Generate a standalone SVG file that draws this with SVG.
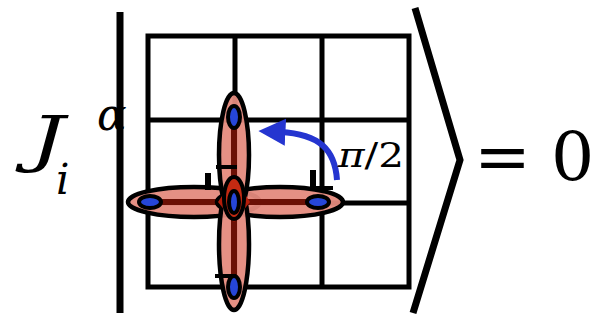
<svg xmlns="http://www.w3.org/2000/svg" width="594" height="323" viewBox="0 0 594 323">
<defs>
<style>
.grid{stroke:#000;stroke-width:5;fill:none}
.bond{fill:#e48a7d;fill-opacity:0.95;stroke:#000;stroke-width:4.5}
.core{stroke:#6b1005;stroke-width:6;stroke-linecap:round}
.site{fill:#2646d8;stroke:#000;stroke-width:4}
.tick{stroke:#000;stroke-width:4}
</style>
<marker id="ah" viewBox="0 0 10 10" refX="2" refY="5" markerWidth="4.5" markerHeight="5" orient="auto">
<path d="M0,0 L10,5 L0,10 z" fill="#2535d0"/>
</marker>
</defs>
<rect width="594" height="323" fill="#fff"/>
<g id="ket-left"><line x1="120" y1="12" x2="120" y2="313" stroke="#000" stroke-width="7"/></g>
<g id="ket-right"><polyline points="415,8 460,160 413,313" fill="none" stroke="#000" stroke-width="7"/></g>
<g id="grid">
<rect class="grid" x="148" y="36" width="261" height="251"/>
<line class="grid" x1="235" y1="36" x2="235" y2="287"/>
<line class="grid" x1="322" y1="36" x2="322" y2="287"/>
<line class="grid" x1="148" y1="120" x2="409" y2="120"/>
<line class="grid" x1="148" y1="203" x2="409" y2="203"/>
</g>
<g id="bond-left"><ellipse class="bond" cx="194" cy="202" rx="66" ry="15"/><line class="core" x1="150" y1="202" x2="234" y2="202"/></g>
<g id="bond-right"><ellipse class="bond" cx="280" cy="202" rx="63" ry="15"/><line class="core" x1="234" y1="202" x2="318" y2="202"/></g>
<g id="bond-top"><ellipse class="bond" cx="234" cy="155" rx="15" ry="62"/><line class="core" x1="234" y1="118" x2="234" y2="202"/></g>
<g id="bond-bottom"><ellipse class="bond" cx="234" cy="244" rx="15" ry="66"/><line class="core" x1="234" y1="202" x2="234" y2="287"/></g>
<g id="center">
<path d="M234,178 L250,202 L234,222 L218,202 Z" fill="#b51d0a"/>
<ellipse cx="234" cy="198" rx="10" ry="21" fill="#c42a12" stroke="#000" stroke-width="4"/>
<ellipse class="site" cx="234" cy="202" rx="5" ry="11"/>
</g>
<g id="sites">
<ellipse class="site" cx="234" cy="117" rx="6" ry="11"/>
<ellipse class="site" cx="150" cy="202" rx="11" ry="6"/>
<ellipse class="site" cx="318" cy="202" rx="11" ry="6"/>
<ellipse class="site" cx="234" cy="287" rx="6" ry="11"/>
</g>
<g id="ticks">
<line class="tick" x1="216" y1="167" x2="237" y2="167"/>
<line class="tick" x1="215" y1="276" x2="236" y2="276"/>
<line x1="208" y1="173" x2="208" y2="190" stroke="#000" stroke-width="6"/>
<line x1="313" y1="170" x2="313" y2="189" stroke="#000" stroke-width="6"/>
<line class="tick" x1="312" y1="188" x2="333" y2="188"/>
</g>
<g id="connectors">
<path d="M337,180 C335,150 320,134 280,132" fill="none" stroke="#2535d0" stroke-width="6" marker-end="url(#ah)"/>
</g>
<g id="labels" font-family="DejaVu Serif, serif" fill="#000">
<text transform="translate(30,160) scale(1.4,1)" x="0" y="0" font-size="62" font-style="italic">J</text>
<text x="97" y="130" font-size="44" font-style="italic">α</text>
<text x="56" y="194" font-size="42" font-style="italic">i</text>
<text x="338" y="167" font-size="33" textLength="66" lengthAdjust="spacingAndGlyphs"><tspan font-style="italic">π</tspan>/2</text>
<text x="474" y="180" font-size="68">=</text>
<text x="551" y="180" font-size="68">0</text>
</g>
</svg>
